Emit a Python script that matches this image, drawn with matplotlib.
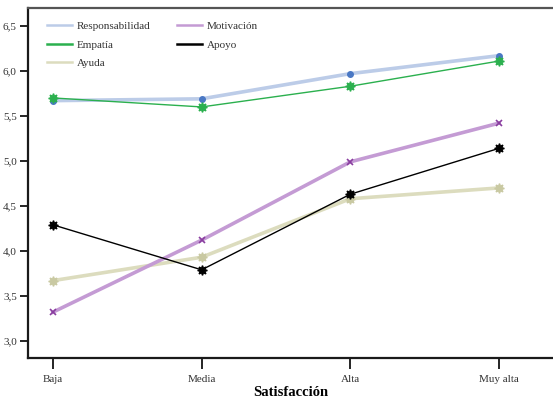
import matplotlib
matplotlib.use("Agg")
import matplotlib.pyplot as plt

categories = ["Baja", "Media", "Alta", "Muy alta"]
responsabilidad = [5.67, 5.69, 5.97, 6.17]
empatia = [5.70, 5.60, 5.83, 6.11]
motivacion = [3.32, 4.12, 4.99, 5.42]
apoyo = [4.29, 3.79, 4.63, 5.14]
ayuda = [3.67, 3.93, 4.58, 4.70]
y_ticks = [3.0, 3.5, 4.0, 4.5, 5.0, 5.5, 6.0, 6.5]
y_tick_labels = ["3,0", "3,5", "4,0", "4,5", "5,0", "5,5", "6,0", "6,5"]

plt.rcParams["font.family"] = ["Liberation Serif", "DejaVu Serif"]

fig = plt.figure(figsize=(5.53, 4.01), dpi=100)
ax = fig.add_axes([0.0506, 0.1072, 0.9494, 0.873])
x = list(range(len(categories)))

ax.plot(x, responsabilidad, color="#bccce8", lw=2.6, marker="o", ms=4,
        mfc="#4a78c4", mec="#4a78c4", label="Responsabilidad", zorder=3)
ax.plot(x, empatia, color="#2bb04e", lw=1.0, marker=(8, 1, 0), ms=7,
        mfc="#2bb04e", mec="#2bb04e", label="Empatía", zorder=4)
ax.plot(x, ayuda, color="#dcdcbe", lw=2.6, marker=(8, 1, 0), ms=7,
        mfc="#c9c9a2", mec="#c9c9a2", label="Ayuda", zorder=3)
ax.plot(x, motivacion, color="#c49bd4", lw=2.6, marker="x", ms=4.5, mew=1.2,
        mec="#8a3ea0", label="Motivación", zorder=3)
ax.plot(x, apoyo, color="black", lw=1.0, marker=(8, 1, 0), ms=7,
        mfc="black", mec="black", label="Apoyo", zorder=4)

ax.set_xlim(-0.168, 3.363)
ax.set_ylim(2.81, 6.70)
ax.set_xticks(x)
ax.set_xticklabels(categories, fontsize=8, color="#333333")
ax.set_yticks(y_ticks)
ax.set_yticklabels(y_tick_labels, fontsize=8, color="#333333")
ax.tick_params(axis="y", direction="out", length=6, width=1.2, pad=2)
ax.tick_params(axis="x", direction="out", length=8, width=1.2, pad=4)
ax.set_xlabel("Satisfacción", fontsize=10.5, fontweight="bold", labelpad=2)

for side in ("left", "bottom"):
    ax.spines[side].set_linewidth(1.6)
    ax.spines[side].set_color("#1a1a1a")
ax.spines["top"].set_linewidth(1.6)
ax.spines["top"].set_color("#555555")
ax.spines["right"].set_visible(False)

leg = ax.legend(loc="upper left", ncol=2, frameon=False, fontsize=8,
                handlelength=2.2, handletextpad=0.45, columnspacing=2.4,
                labelspacing=0.78, bbox_to_anchor=(0.018, 0.99),
                markerscale=0)
for line in leg.get_lines():
    line.set_linewidth(1.8)
for txt in leg.get_texts():
    txt.set_color("#333333")

fig.savefig("out.png", dpi=100)
